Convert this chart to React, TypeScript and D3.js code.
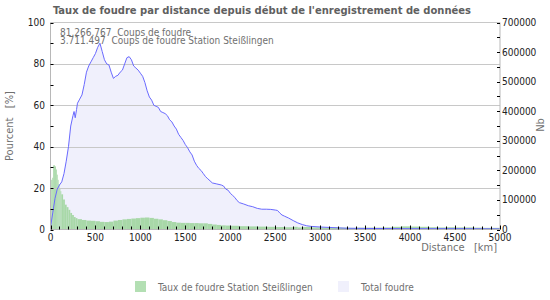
import React from "react";
import * as d3 from "d3";

const title = "Taux de foudre par distance depuis début de l'enregistrement de données";
const infoLines = ["81.266.767  Coups de foudre", "3.711.497  Coups de foudre Station Steißlingen"];
const legendLabels = ["Taux de foudre Station Steißlingen", "Total foudre"];

const leftTicks = [0, 20, 40, 60, 80, 100];
const rightTicks = [0, 100000, 200000, 300000, 400000, 500000, 600000, 700000];
const xTicks = [0, 500, 1000, 1500, 2000, 2500, 3000, 3500, 4000, 4500, 5000];

// Total foudre (Nb, right axis)
const blueKm = [0, 25, 50, 75, 100, 125, 150, 175, 200, 225, 250, 262, 275, 290, 300, 325, 350, 375, 400, 425, 450, 475, 500, 525, 550, 575, 600, 625, 650, 675, 700, 725, 750, 775, 800, 825, 850, 875, 900, 925, 950, 975, 1000, 1025, 1050, 1075, 1100, 1125, 1150, 1175, 1200, 1225, 1250, 1275, 1300, 1325, 1350, 1375, 1400, 1425, 1450, 1475, 1500, 1525, 1550, 1575, 1600, 1625, 1650, 1675, 1700, 1725, 1750, 1775, 1800, 1850, 1900, 1925, 1950, 1975, 2000, 2025, 2050, 2075, 2100, 2150, 2200, 2250, 2300, 2350, 2400, 2450, 2500, 2525, 2550, 2575, 2600, 2650, 2700, 2750, 2800, 2850, 2900, 3000, 3100, 3200, 3300, 3500, 4000, 4500, 5000];
const blueNb = [7000, 56000, 105000, 136500, 150500, 161000, 189000, 231000, 280000, 350000, 385000, 399000, 378000, 406000, 427000, 441000, 455000, 490000, 532000, 553000, 567000, 581000, 595000, 616000, 630000, 602000, 574000, 560000, 556500, 532000, 511000, 518000, 521500, 532000, 539000, 560000, 581000, 584500, 574000, 553000, 546000, 539000, 528500, 518000, 497000, 469000, 448000, 437500, 420000, 416500, 413000, 399000, 395500, 392000, 385000, 371000, 364000, 350000, 339500, 322000, 311500, 301000, 287000, 276500, 262500, 252000, 231000, 217000, 206500, 199500, 189000, 178500, 171500, 164500, 157500, 154000, 150500, 147000, 136500, 133000, 122500, 115500, 108500, 98000, 91000, 86100, 80500, 77000, 71400, 68600, 68600, 67900, 65800, 64400, 56000, 49000, 45500, 38500, 30100, 22400, 16800, 12600, 10500, 8400, 7000, 5600, 4200, 3500, 2800, 2800, 2100];

// Taux de foudre Station (%, left axis), bins by left edge
const greenKm = [0, 10, 20, 30, 40, 50, 60, 70, 80, 90, 100, 110, 120, 140, 160, 180, 200, 220, 240, 260, 280, 300, 350, 400, 450, 500, 550, 600, 650, 700, 750, 800, 850, 900, 950, 1000, 1050, 1100, 1150, 1200, 1250, 1300, 1350, 1400, 1450, 1500, 1550, 1600, 1650, 1700, 1750, 1800, 1850, 1900, 1950, 2000, 2100, 2200, 2300, 2400, 2500, 2600, 2700, 2750, 2800, 2900, 3000, 3100, 3200, 3300, 3400, 3500, 3600, 3700, 3800, 3900, 4000, 4100, 4200, 4300, 4400, 4500, 4600, 4700, 4800, 4900];
const greenPct = [24, 24, 25, 31, 31, 30.5, 29, 26.5, 24, 22, 20, 18.5, 17, 14.5, 12, 10.8, 9.5, 8, 7, 6, 5.5, 5, 4.6, 4.3, 4.2, 4.0, 3.7, 3.6, 3.8, 4.3, 4.6, 4.9, 5.1, 5.3, 5.5, 5.7, 5.8, 5.6, 5.2, 4.9, 4.5, 4.1, 3.6, 3.3, 3.2, 3.2, 3.1, 3.1, 3.0, 3.0, 2.7, 2.4, 2.2, 2.0, 1.9, 1.8, 1.6, 1.5, 1.4, 1.3, 1.2, 1.1, 1.3, 1.0, 1.2, 1.0, 0.9, 1.0, 0.9, 0.8, 0.9, 0.9, 0.9, 1.0, 1.3, 1.5, 1.4, 1.3, 1.1, 1.0, 1.1, 1.0, 1.0, 0.9, 0.8, 0.8];

const W = 550, H = 300;
const L = 50.5, R = 500, T = 22.5, B = 229.5;
const FONT = "'DejaVu Sans Condensed', 'DejaVu Sans', sans-serif";

export default function App() {
  const x = d3.scaleLinear().domain([0, 5000]).range([L, R]);
  const yL = d3.scaleLinear().domain([0, 100]).range([B, T]);
  const yR = d3.scaleLinear().domain([0, 700000]).range([B, T]);

  const blueData = blueKm.map((k, i) => [k, blueNb[i]] as [number, number]);
  const area = d3.area<[number, number]>().x(d => x(d[0])).y0(B).y1(d => yR(d[1]));
  const line = d3.line<[number, number]>().x(d => x(d[0])).y(d => yR(d[1]));

  const minorY = d3.range(0, 101, 10);
  const minorR = d3.range(0, 700001, 50000);
  const minorX = d3.range(0, 5001, 100);

  return (
    <svg width={W} height={H} style={{ position: "absolute", left: 0, top: 0, fontFamily: FONT, fontStretch: "condensed" }}>
      <rect x={0} y={0} width={W} height={H} fill="#ffffff" />
      <text x={262} y={14} textAnchor="middle" fontWeight="bold" fontSize={11.1} fill="#606060">{title}</text>
      <path d={area(blueData) || ""} fill="#f0f0fc" />
      {greenKm.map((k, i) => {
        const k2 = i < greenKm.length - 1 ? greenKm[i + 1] : 5000;
        return <rect key={i} x={x(k)} y={yL(greenPct[i])} width={x(k2) - x(k)} height={B - yL(greenPct[i])} fill="#a8d8a8" />;
      })}
      {[20, 40, 60, 80].map(v => (
        <line key={v} x1={L} x2={R} y1={Math.round(yL(v)) + 0.5} y2={Math.round(yL(v)) + 0.5} stroke="#c8c8c8" strokeWidth={1} />
      ))}
      <path d={line(blueData) || ""} fill="none" stroke="#6a6aff" strokeWidth={1} />
      {/* frame */}
      <line x1={L} x2={R} y1={T} y2={T} stroke="#c8c8c8" />
      <line x1={L} x2={L} y1={T} y2={B} stroke="#b8b8b8" />
      <line x1={R} x2={R} y1={T} y2={B} stroke="#b8b8b8" />
      <line x1={L} x2={R} y1={B} y2={B} stroke="#b8b8b8" />
      {/* left ticks */}
      {minorY.map(v => (
        <line key={v} x1={L} x2={L + 3} y1={Math.round(yL(v)) + 0.5} y2={Math.round(yL(v)) + 0.5} stroke="#000" />
      ))}
      {leftTicks.map(v => (
        <text key={v} x={45} y={yL(v)} dy="0.35em" textAnchor="end" fontSize={10} fill="#222">{v}</text>
      ))}
      {/* right ticks */}
      {minorR.map(v => (
        <line key={v} x1={R - 3} x2={R} y1={Math.round(yR(v)) + 0.5} y2={Math.round(yR(v)) + 0.5} stroke="#000" />
      ))}
      {rightTicks.map(v => (
        <text key={v} x={502} y={yR(v)} dy="0.35em" textAnchor="start" fontSize={10} fill="#222">{v}</text>
      ))}
      {/* bottom ticks */}
      {minorX.map(v => (
        <line key={v} x1={Math.round(x(v)) + 0.5} x2={Math.round(x(v)) + 0.5} y1={B} y2={B - (v % 500 === 0 ? 4 : 3)} stroke="#000" />
      ))}
      {xTicks.map(v => (
        <text key={v} x={x(v)} y={241} textAnchor="middle" fontSize={10} fill="#222">{v}</text>
      ))}
      {/* axis titles */}
      <text x={497} y={251} textAnchor="end" fontSize={11} fill="#707070" style={{ whiteSpace: "pre" }}>{"Distance   [km]"}</text>
      <text transform="translate(13,126) rotate(-90)" textAnchor="middle" fontSize={11} fill="#707070" style={{ whiteSpace: "pre" }}>{"Pourcent   [%]"}</text>
      <text transform="translate(544,125) rotate(-90)" textAnchor="middle" fontSize={11} fill="#707070">Nb</text>
      {/* info */}
      {infoLines.map((t, i) => (
        <text key={i} x={60} y={36 + i * 7.5} fontSize={10} fill="#707070" style={{ whiteSpace: "pre" }}>{t}</text>
      ))}
      {/* legend */}
      <rect x={135} y={281} width={11} height={11} fill="#b3dfb3" />
      <text x={158} y={287} dy="0.35em" fontSize={10} fill="#707070">{legendLabels[0]}</text>
      <rect x={338} y={281} width={11} height={11} fill="#f0f0fc" />
      <text x={361} y={287} dy="0.35em" fontSize={10} fill="#707070">{legendLabels[1]}</text>
    </svg>
  );
}
